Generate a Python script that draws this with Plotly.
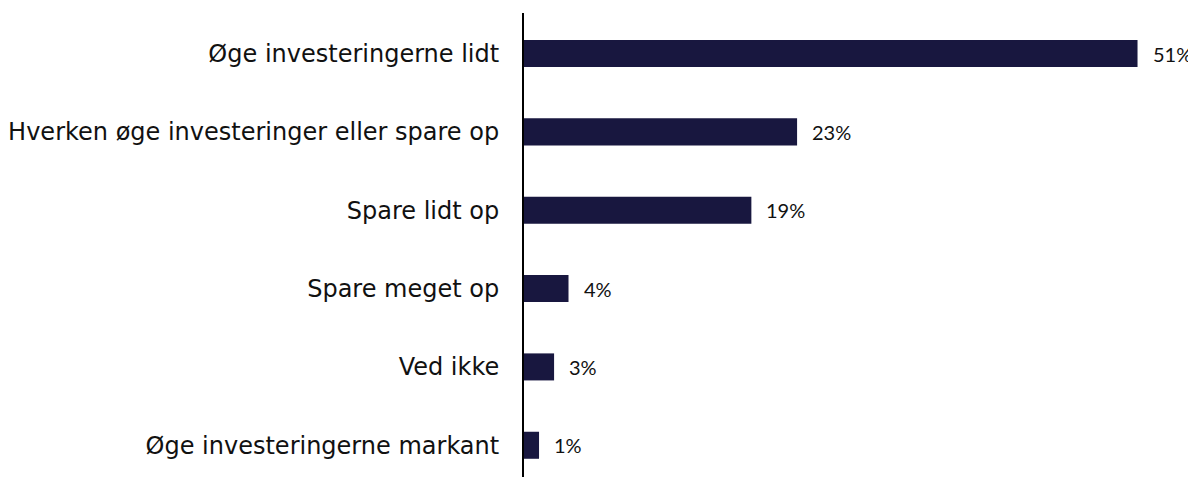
import plotly.graph_objects as go

categories = [
    "Øge investeringerne lidt",
    "Hverken øge investeringer eller spare op",
    "Spare lidt op",
    "Spare meget op",
    "Ved ikke",
    "Øge investeringerne markant",
]
shares = [51.0, 22.7, 18.9, 3.7, 2.5, 1.25]
share_labels = ["51%", "23%", "19%", "4%", "3%", "1%"]

BAR_COLOR = "#18173f"

fig = go.Figure(
    go.Bar(
        x=shares,
        y=categories,
        orientation="h",
        marker={"color": BAR_COLOR, "line": {"width": 0}},
        width=0.345,
        hoverinfo="skip",
    )
)

for value, label, cat in zip(shares, share_labels, categories):
    fig.add_annotation(
        x=value,
        y=cat,
        text=label,
        showarrow=False,
        xanchor="left",
        xshift=13,
        font={"family": "Lato, Open Sans, sans-serif", "size": 20, "color": "#111111"},
    )

fig.update_xaxes(
    range=[0, 55.86],
    visible=False,
)
fig.update_yaxes(
    type="category",
    categoryorder="array",
    categoryarray=categories,
    range=[5.405, -0.517],
    showline=True,
    linecolor="#000000",
    linewidth=2,
    showgrid=False,
    ticks="",
    ticklabelstandoff=18,
    tickfont={"family": "Verdana, DejaVu Sans, sans-serif", "size": 24, "color": "#111111"},
)
# the page adds an 8px body margin, so the figure is trimmed to fit the window
fig.update_layout(
    width=1188,
    height=469,
    margin={"l": 516, "r": 0, "t": 5, "b": 0},
    paper_bgcolor="white",
    plot_bgcolor="white",
    showlegend=False,
)

fig.write_html("out.html")
